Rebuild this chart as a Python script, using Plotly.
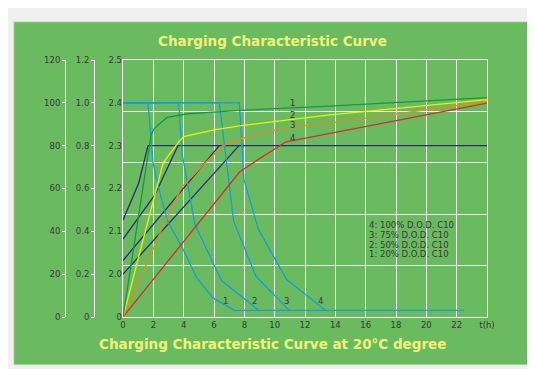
"""Charging characteristic curve of a lead-acid cell (capacity, voltage, current vs time)."""
import plotly.graph_objects as go

# the page adds an 8px body margin, so the figure itself is 8px smaller
W, H = 527, 361
OFF = 8

# x axis: charging time in hours
hour_ticks = list(range(0, 25, 2))
hour_labels = [str(h) for h in range(0, 23, 2)] + ["t(h)"]

# left scales
cap_ticks = [0, 20, 40, 60, 80, 100, 120]
cur_ticks = [0, 0.2, 0.4, 0.6, 0.8, 1.0, 1.2]
cur_labels = ["0", "0.2", "0.4", "0.6", "0.8", "1.0", "1.2"]
volt_ticks = [1.9, 2.0, 2.1, 2.2, 2.3, 2.4, 2.5]
volt_labels = ["0", "2.0", "2.1", "2.2", "2.3", "2.4", "2.5"]

# charged capacity (%), curves 1..4 (20/50/75/100 % D.O.D.)
cap1_t = [0, 1.85, 2.05, 2.9, 4.3, 7.7, 13.6, 24]
cap1 = [0, 85, 88, 93.2, 94.9, 96.5, 98.5, 102.4]
cap2_t = [0, 2.65, 3.7, 4.0, 6.0, 7.7, 10.35, 13.65, 24]
cap2 = [0, 72, 82, 84.2, 87.4, 89.2, 91.6, 94.4, 101.5]
cap3_t = [0, 2.5, 3.85, 5.4, 6.6, 7.9, 10.1, 12.3, 13.65, 24]
cap3 = [0, 40, 60.5, 71.8, 80, 83.5, 87.4, 89.7, 90.5, 100.7]
cap4_t = [0, 7.7, 8.8, 10.75, 24]
cap4 = [0, 67.8, 73, 81.8, 99.9]

# charging voltage (V/cell)
volt1_t = [0, 1.03, 1.65, 24]
volt1 = [2.126, 2.212, 2.3, 2.3]
volt2_t = [0, 2.1, 3.62]
volt2 = [2.082, 2.185, 2.3]
volt3_t = [0, 6.35]
volt3 = [2.032, 2.3]
volt4_t = [0, 7.65]
volt4 = [2.0, 2.3]

# charging current (C10)
cur1_t = [0, 1.65, 1.98, 2.5, 2.97, 4.0, 4.86, 5.95, 7.35, 22.5]
cur1 = [1.0, 1.0, 0.72, 0.56, 0.445, 0.31, 0.183, 0.088, 0.031, 0.031]
cur2_t = [0, 3.67, 3.9, 4.75, 6.5, 8.95]
cur2 = [1.0, 1.0, 0.76, 0.43, 0.17, 0.031]
cur3_t = [0, 6.35, 7.3, 8.77, 10.95]
cur3 = [1.0, 1.0, 0.445, 0.19, 0.031]
cur4_t = [0, 7.67, 7.98, 8.92, 10.79, 13.34]
cur4 = [1.0, 1.0, 0.64, 0.41, 0.175, 0.031]

legend_lines = ["4: 100% D.O.D. C10", "3: 75% D.O.D. C10",
                "2: 50% D.O.D. C10", "1: 20% D.O.D. C10"]

GREEN_BG = "#6abb60"
GRID = "rgba(255,255,255,0.85)"
TXT = "#383838"
TITLE = "#f3f07a"
SMALL = dict(family="DejaVu Sans", size=8.5, color=TXT)


def px(x):
    # page pixel -> paper fraction
    return (x - OFF) / W


def py(y):
    return 1 - (y - OFF) / H


fig = go.Figure()

# base subplot (carries the 5-division grid)
fig.add_trace(go.Scatter(x=[0], y=[0], mode="markers", marker=dict(opacity=0),
                         hoverinfo="skip", showlegend=False))

for t, v, c in [(cap4_t, cap4, "#dd2a2a"), (cap3_t, cap3, "#e88a18"),
                (cap2_t, cap2, "#f2ee00"), (cap1_t, cap1, "#109a48")]:
    fig.add_trace(go.Scatter(x=t, y=v, yaxis="y4", mode="lines",
                             line=dict(color=c, width=1.3), showlegend=False))

for t, v in [(volt1_t, volt1), (volt2_t, volt2), (volt3_t, volt3), (volt4_t, volt4)]:
    fig.add_trace(go.Scatter(x=t, y=v, yaxis="y2", mode="lines",
                             line=dict(color="#2c2a7c", width=1.3), showlegend=False))

for t, v in [(cur4_t, cur4), (cur3_t, cur3), (cur2_t, cur2), (cur1_t, cur1)]:
    fig.add_trace(go.Scatter(x=t, y=v, yaxis="y3", mode="lines",
                             line=dict(color="#1a9bd7", width=1.3), showlegend=False))

x_dom = [px(123), px(487)]
y_dom = [py(317), py(60)]

annotations = [
    dict(text="Charging Characteristic Curve", xref="paper", yref="paper",
         x=px(272.5), y=py(40.7), showarrow=False, yanchor="middle",
         font=dict(family="DejaVu Sans", size=13.5, color=TITLE, weight="bold")),
    dict(text="Charging Characteristic Curve at 20°C degree", xref="paper", yref="paper",
         x=px(272.5), y=py(344), showarrow=False, yanchor="middle",
         font=dict(family="DejaVu Sans", size=13.5, color=TITLE, weight="bold")),
]
# curve numbers on capacity curves
for lab, yv in zip(["1", "2", "3", "4"], [99.9, 94.1, 89.7, 83.8]):
    annotations.append(dict(text=lab, x=11.16, y=yv, xref="x", yref="y4",
                            showarrow=False, borderpad=0, font=SMALL))
# curve numbers on current curves
for lab, xv in zip(["1", "2", "3", "4"], [6.77, 8.68, 10.75, 12.99]):
    annotations.append(dict(text=lab, x=xv, y=0.075, xref="x", yref="y3",
                            showarrow=False, borderpad=0, font=SMALL))
for i, line in enumerate(legend_lines):
    annotations.append(dict(text=line, x=16.17, y=42.9 - i * 4.55, xref="x", yref="y4",
                            xanchor="left", showarrow=False, borderpad=0, font=SMALL))

side_axis = dict(overlaying="y", anchor="free", domain=y_dom, showgrid=False,
                 zeroline=False, showline=True, linecolor="white", linewidth=1,
                 ticks="outside", ticklen=3, tickcolor="white", tickfont=SMALL)

fig.update_layout(
    width=W, height=H, autosize=False,
    margin=dict(l=0, r=0, t=0, b=0),
    paper_bgcolor="#f0f0f0",
    plot_bgcolor="rgba(0,0,0,0)",
    showlegend=False,
    xaxis=dict(domain=x_dom, range=[0, 24], tickvals=hour_ticks, ticktext=hour_labels,
               showgrid=True, gridcolor=GRID, gridwidth=1, zeroline=False,
               showline=True, linecolor="white", mirror=True, ticks="",
               tickfont=SMALL, automargin=False),
    yaxis=dict(domain=y_dom, range=[0, 5], tickvals=[0, 1, 2, 3, 4, 5],
               showticklabels=False, showgrid=True, gridcolor=GRID, gridwidth=1,
               zeroline=False, showline=True, linecolor="white", mirror=True,
               ticks="", automargin=False),
    yaxis2=dict(overlaying="y", anchor="x", side="left", range=[1.9, 2.5],
                tickvals=volt_ticks, ticktext=volt_labels, showgrid=False,
                zeroline=False, showline=False, ticks="", tickfont=SMALL,
                automargin=False),
    yaxis3=dict(side_axis, position=px(94), range=[0, 1.2], tickvals=cur_ticks,
                ticktext=cur_labels, automargin=False),
    yaxis4=dict(side_axis, position=px(65), range=[0, 120], tickvals=cap_ticks,
                automargin=False),
    annotations=annotations,
    shapes=[
        dict(type="rect", xref="paper", yref="paper", x0=px(13.7), x1=px(528.5),
             y0=py(365), y1=py(21.7), fillcolor=GREEN_BG,
             line=dict(color="#d3e8cc", width=1), layer="below"),
    ],
)

fig.write_html("out.html")
